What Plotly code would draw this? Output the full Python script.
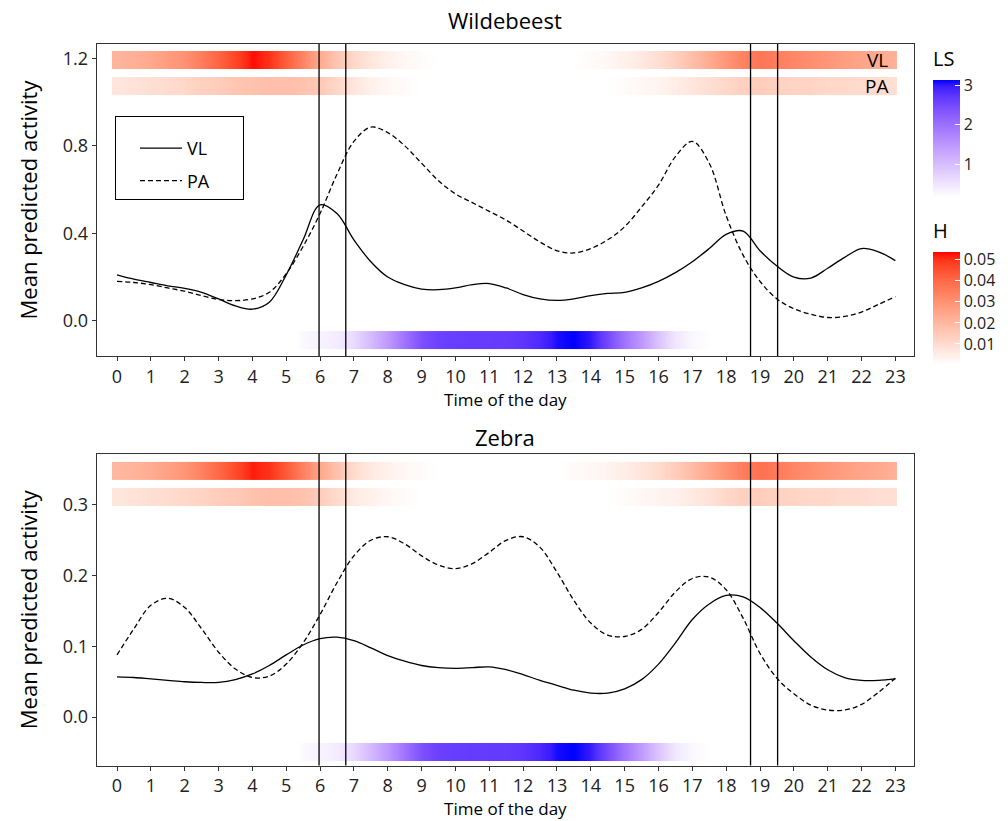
import plotly.graph_objects as go

# ---------------- data ----------------
hours = [h / 2 for h in range(47)]          # 0, 0.5, ..., 23
tick_hours = list(range(24))
twilight = [5.97, 6.76, 18.72, 19.52]       # vertical reference lines

# Wildebeest mean predicted activity
wb_vl = [0.21, 0.19, 0.175, 0.16, 0.148, 0.13, 0.10, 0.068, 0.053, 0.085, 0.21, 0.37,
         0.53, 0.49, 0.37, 0.27, 0.20, 0.165, 0.145, 0.142, 0.15, 0.165, 0.17, 0.15,
         0.12, 0.10, 0.093, 0.10, 0.115, 0.125, 0.13, 0.15, 0.18, 0.22, 0.27, 0.33,
         0.395, 0.41, 0.32, 0.25, 0.20, 0.195, 0.24, 0.29, 0.33, 0.315, 0.275]
wb_pa = [0.18, 0.175, 0.165, 0.15, 0.135, 0.115, 0.097, 0.092, 0.10, 0.13, 0.215, 0.34,
         0.49, 0.67, 0.82, 0.885, 0.86, 0.80, 0.72, 0.64, 0.58, 0.54, 0.50, 0.46,
         0.41, 0.36, 0.32, 0.31, 0.33, 0.37, 0.43, 0.52, 0.62, 0.75, 0.82, 0.72,
         0.48, 0.30, 0.18, 0.10, 0.055, 0.03, 0.015, 0.02, 0.04, 0.075, 0.11]

# Zebra mean predicted activity
zb_vl = [0.057, 0.056, 0.054, 0.052, 0.050, 0.049, 0.049, 0.053, 0.061, 0.073, 0.088, 0.102,
         0.111, 0.113, 0.108, 0.098, 0.087, 0.079, 0.073, 0.070, 0.069, 0.070, 0.071, 0.067,
         0.060, 0.052, 0.045, 0.038, 0.034, 0.034, 0.040, 0.053, 0.075, 0.105, 0.138, 0.160,
         0.172, 0.170, 0.155, 0.133, 0.108, 0.085, 0.067, 0.056, 0.052, 0.052, 0.054]
zb_pa = [0.088, 0.125, 0.158, 0.168, 0.155, 0.125, 0.092, 0.068, 0.056, 0.058, 0.075, 0.105,
         0.145, 0.19, 0.228, 0.25, 0.255, 0.245, 0.228, 0.215, 0.21, 0.217, 0.233, 0.25,
         0.255, 0.24, 0.205, 0.165, 0.133, 0.116, 0.114, 0.124, 0.148, 0.177, 0.196, 0.198,
         0.18, 0.14, 0.09, 0.055, 0.033, 0.017, 0.01, 0.01, 0.018, 0.035, 0.055]

# H (hazard) per half hour, VL and PA rows
wb_h_vl = [0.021, 0.022, 0.024, 0.027, 0.030, 0.035, 0.041, 0.047, 0.053, 0.050, 0.042, 0.033,
           0.023, 0.016, 0.011, 0.007, 0.004, 0.002, 0.001, 0, 0, 0, 0, 0,
           0, 0, 0, 0, 0.001, 0.002, 0.004, 0.006, 0.009, 0.013, 0.018, 0.023,
           0.029, 0.034, 0.037, 0.035, 0.033, 0.031, 0.029, 0.027, 0.025, 0.023, 0.022]
wb_h_pa = [0.007, 0.008, 0.009, 0.010, 0.011, 0.013, 0.014, 0.016, 0.017, 0.018, 0.018, 0.017,
           0.015, 0.011, 0.007, 0.004, 0.002, 0.001, 0, 0, 0, 0, 0, 0,
           0, 0, 0, 0, 0, 0, 0.001, 0.002, 0.003, 0.005, 0.007, 0.009,
           0.011, 0.013, 0.014, 0.013, 0.012, 0.012, 0.011, 0.011, 0.010, 0.010, 0.009]
zb_h_vl = [0.020, 0.021, 0.023, 0.026, 0.029, 0.034, 0.040, 0.046, 0.052, 0.050, 0.043, 0.034,
           0.024, 0.017, 0.010, 0.006, 0.004, 0.002, 0.001, 0, 0, 0, 0, 0,
           0, 0, 0, 0.001, 0.002, 0.003, 0.005, 0.007, 0.010, 0.014, 0.019, 0.024,
           0.030, 0.035, 0.038, 0.036, 0.033, 0.031, 0.029, 0.027, 0.025, 0.024, 0.022]
zb_h_pa = [0.007, 0.008, 0.009, 0.010, 0.011, 0.012, 0.014, 0.015, 0.017, 0.018, 0.018, 0.017,
           0.014, 0.010, 0.006, 0.004, 0.002, 0.001, 0, 0, 0, 0, 0, 0,
           0, 0, 0, 0, 0, 0, 0.001, 0.002, 0.003, 0.004, 0.006, 0.008,
           0.011, 0.013, 0.014, 0.013, 0.012, 0.011, 0.011, 0.010, 0.010, 0.009, 0.009]

# LS per half hour
wb_ls = [0, 0, 0, 0, 0, 0, 0, 0, 0, 0, 0, 0.27,
         0.33, 0.42, 0.64, 1.02, 1.45, 1.95, 2.4, 2.58, 2.63, 2.65, 2.65, 2.66,
         2.72, 2.85, 3.06, 3.13, 3.0, 2.5, 1.95, 1.48, 0.92, 0.48, 0.27, 0.2,
         0, 0, 0, 0, 0, 0, 0, 0, 0, 0, 0]
zb_ls = [0, 0, 0, 0, 0, 0, 0, 0, 0, 0, 0, 0.26,
         0.32, 0.42, 0.66, 1.04, 1.47, 1.95, 2.4, 2.6, 2.64, 2.66, 2.67, 2.67,
         2.73, 2.86, 3.07, 3.13, 2.98, 2.48, 1.93, 1.45, 0.9, 0.47, 0.27, 0.2,
         0, 0, 0, 0, 0, 0, 0, 0, 0, 0, 0]

ls_ticks = [1, 2, 3]
h_ticks = [0.01, 0.02, 0.03, 0.04, 0.05]

# ---------------- helpers ----------------
W, H = 1008, 821


def px_x(p):
    return p / W


def px_y(p):
    return 1 - p / H


def _lin(c):
    return c / 12.92 if c <= 0.04045 else ((c + 0.055) / 1.055) ** 2.4


def _gam(c):
    c = min(max(c, 0.0), 1.0)
    return 12.92 * c if c <= 0.0031308 else 1.055 * c ** (1 / 2.4) - 0.055


def to_lab(rgb):
    r, g, b = [_lin(v / 255) for v in rgb]
    X = (0.4124 * r + 0.3576 * g + 0.1805 * b) / 0.95047
    Y = 0.2126 * r + 0.7152 * g + 0.0722 * b
    Z = (0.0193 * r + 0.1192 * g + 0.9505 * b) / 1.08883
    f = lambda t: t ** (1 / 3) if t > 0.008856 else 7.787 * t + 16 / 116
    fx, fy, fz = f(X), f(Y), f(Z)
    return 116 * fy - 16, 500 * (fx - fy), 200 * (fy - fz)


def from_lab(L, a, b):
    fy = (L + 16) / 116
    fx = fy + a / 500
    fz = fy - b / 200
    fi = lambda t: t ** 3 if t ** 3 > 0.008856 else (t - 16 / 116) / 7.787
    X, Y, Z = fi(fx) * 0.95047, fi(fy), fi(fz) * 1.08883
    r = 3.2406 * X - 1.5372 * Y - 0.4986 * Z
    g = -0.9689 * X + 1.8758 * Y + 0.0415 * Z
    bb = 0.0557 * X - 0.2040 * Y + 1.0570 * Z
    return "rgb(%d,%d,%d)" % tuple(round(_gam(v) * 255) for v in (r, g, bb))


def lab_scale(hi, n=21):
    l0 = to_lab((255, 255, 255))
    l1 = to_lab(hi)
    out = []
    for i in range(n):
        t = i / (n - 1)
        out.append([t, from_lab(*[l0[k] + (l1[k] - l0[k]) * t for k in range(3)])])
    return out


def edges(centers, start, end):
    mids = [(a + b) / 2 for a, b in zip(centers[:-1], centers[1:])]
    return [start] + mids + [end]


x_edges = edges(hours, -0.15, 23.05)

FONT = "Open Sans"
AX = "#333333"
fig = go.Figure()


def heat(z, y0, y1, ca, xa, ya):
    fig.add_trace(go.Heatmap(
        x=x_edges, y=[y0, y1], z=[z], coloraxis=ca, xaxis=xa, yaxis=ya,
        zsmooth="best", hoverinfo="skip", showscale=False))


# top panel bars
heat(wb_h_vl, 1.151, 1.233, "coloraxis", "x", "y")
heat(wb_h_pa, 1.032, 1.114, "coloraxis", "x", "y")
heat(wb_ls, -0.129, -0.047, "coloraxis2", "x", "y")
# bottom panel bars
heat(zb_h_vl, 0.3353, 0.3608, "coloraxis", "x2", "y2")
heat(zb_h_pa, 0.2985, 0.324, "coloraxis", "x2", "y2")
heat(zb_ls, -0.062, -0.0366, "coloraxis2", "x2", "y2")

DASH = "5px,3px"
PAD = "\u00a0" * 6
fig.add_trace(go.Scatter(x=hours, y=wb_vl, mode="lines", name="VL" + PAD, legendgroup="a",
                         line=dict(color="black", width=1.3, shape="spline"), xaxis="x", yaxis="y"))
fig.add_trace(go.Scatter(x=hours, y=wb_pa, mode="lines", name="PA" + PAD, legendgroup="b",
                         line=dict(color="black", width=1.3, shape="spline", dash=DASH), xaxis="x", yaxis="y"))
fig.add_trace(go.Scatter(x=hours, y=zb_vl, mode="lines", name="VL", showlegend=False,
                         line=dict(color="black", width=1.3, shape="spline"), xaxis="x2", yaxis="y2"))
fig.add_trace(go.Scatter(x=hours, y=zb_pa, mode="lines", name="PA", showlegend=False,
                         line=dict(color="black", width=1.3, shape="spline", dash=DASH), xaxis="x2", yaxis="y2"))

for t in twilight:
    fig.add_shape(type="line", xref="x", yref="y domain", x0=t, x1=t, y0=0, y1=1,
                  line=dict(color="black", width=1.3))
    fig.add_shape(type="line", xref="x2", yref="y2 domain", x0=t, x1=t, y0=0, y1=1,
                  line=dict(color="black", width=1.3))

xdom = [px_x(96.7), px_x(914)]
xcommon = dict(range=[-0.6, 23.55], tickmode="array", tickvals=tick_hours,
               ticks="outside", ticklen=4, tickwidth=1, tickcolor=AX,
               showline=True, mirror=True, linecolor=AX, linewidth=1.3,
               showgrid=False, zeroline=False, domain=xdom, automargin=False,
               tickfont=dict(size=18, color="#222", family=FONT),
               title=dict(text="Time of the day", font=dict(size=17, color="black", family=FONT),
                          standoff=4))
ycommon = dict(ticks="outside", ticklen=4, tickwidth=1, tickcolor=AX,
               showline=True, mirror=True, linecolor=AX, linewidth=1.3,
               showgrid=False, zeroline=False, tickformat=".1f", automargin=False,
               tickfont=dict(size=18, color="#222", family=FONT),
               title=dict(text="Mean predicted activity", font=dict(size=22, color="black", family=FONT),
                          standoff=18))

fig.update_layout(
    width=W, height=H, autosize=False,
    margin=dict(l=0, r=0, t=0, b=0),
    paper_bgcolor="white", plot_bgcolor="white",
    font=dict(family=FONT, color="black"),
    xaxis=dict(**xcommon, anchor="y"),
    yaxis=dict(**ycommon, anchor="x", range=[-0.161, 1.265], tickvals=[0, 0.4, 0.8, 1.2],
               domain=[px_y(356), px_y(44)]),
    xaxis2=dict(**xcommon, anchor="y2"),
    yaxis2=dict(**ycommon, anchor="x2", range=[-0.0684, 0.372], tickvals=[0, 0.1, 0.2, 0.3],
                domain=[px_y(765.5), px_y(454)]),
    coloraxis=dict(colorscale=lab_scale((255, 0, 0)), cmin=0, cmax=0.0537,
                   colorbar=dict(title=dict(text="H", side="top", font=dict(size=20, family=FONT)),
                                 x=px_x(933), xanchor="left", xpad=0, ypad=0,
                                 y=px_y(220), yanchor="top", lenmode="pixels", len=145,
                                 thickness=27, outlinewidth=0,
                                 tickvals=h_ticks, ticktext=["0.01", "0.02", "0.03", "0.04", "0.05"],
                                 ticks="inside", ticklen=5, tickcolor="white",
                                 tickfont=dict(size=16, family=FONT, color="#222"))),
    coloraxis2=dict(colorscale=lab_scale((0, 0, 255)), cmin=0.18, cmax=3.13,
                    colorbar=dict(title=dict(text="LS", side="top", font=dict(size=20, family=FONT)),
                                  x=px_x(933), xanchor="left", xpad=0, ypad=0,
                                  y=px_y(48), yanchor="top", lenmode="pixels", len=149,
                                  thickness=27, outlinewidth=0,
                                  tickvals=ls_ticks, ticks="inside", ticklen=5, tickcolor="white",
                                  tickfont=dict(size=16, family=FONT, color="#222"))),
    legend=dict(x=px_x(115), y=px_y(116), xanchor="left", yanchor="top",
                bordercolor="black", borderwidth=1, bgcolor="white",
                title=dict(text="\u00a0", font=dict(size=10)),
                indentation=19, itemwidth=42,
                font=dict(size=18, family=FONT, color="black"), tracegroupgap=6),
    annotations=[
        dict(text="Wildebeest", xref="paper", yref="paper", x=px_x(505), y=px_y(20),
             xanchor="center", yanchor="middle",
             showarrow=False, font=dict(size=22, family=FONT, color="black")),
        dict(text="Zebra", xref="paper", yref="paper", x=px_x(505), y=px_y(437),
             xanchor="center", yanchor="middle",
             showarrow=False, font=dict(size=22, family=FONT, color="black")),
        dict(text="VL", xref="x", yref="y", x=22.85, y=1.192, xanchor="right", yanchor="middle",
             showarrow=False, font=dict(size=19, family=FONT, color="black")),
        dict(text="PA", xref="x", yref="y", x=22.85, y=1.073, xanchor="right", yanchor="middle",
             showarrow=False, font=dict(size=19, family=FONT, color="black")),
    ],
)

fig.write_html("out.html", config={"displayModeBar": False},
               post_script="document.body.style.margin='0';document.body.style.overflow='hidden';")
